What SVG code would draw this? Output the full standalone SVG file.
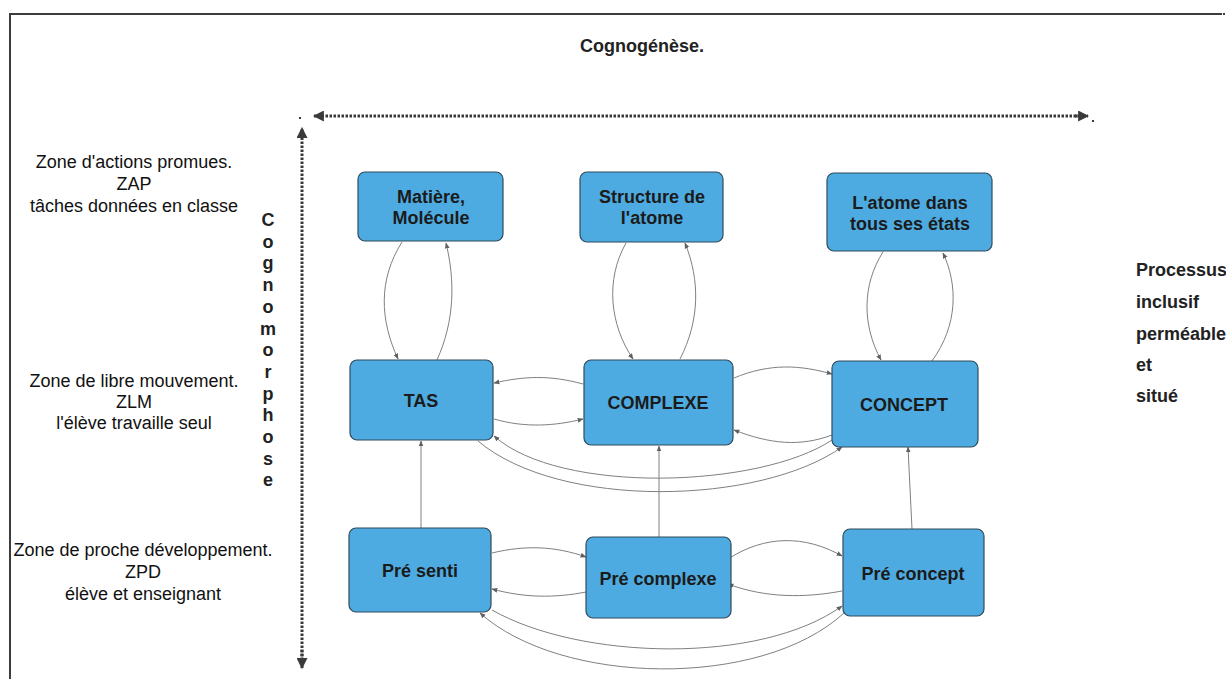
<svg xmlns="http://www.w3.org/2000/svg" width="1226" height="679" viewBox="0 0 1226 679">
<style>
.node rect{fill:#4eabe1;stroke:#2f4b5c;stroke-width:1.2}
.node text{font-family:"Liberation Sans",Arial,sans-serif;font-weight:bold;font-size:18px;fill:#1b1b1b;text-anchor:middle}
.lbl{font-family:"Liberation Sans",Arial,sans-serif;font-size:18px;fill:#111;text-anchor:middle}
.bold{font-family:"Liberation Sans",Arial,sans-serif;font-weight:bold;font-size:18px;fill:#222}
.conn path{fill:none;stroke:#808080;stroke-width:1}
.dash{fill:none;stroke:#3a3a3a;stroke-width:3;stroke-dasharray:2.5 1.5}
</style>
<defs>
<marker id="a" viewBox="0 0 10 10" refX="9" refY="5" markerWidth="6" markerHeight="6" orient="auto" markerUnits="userSpaceOnUse">
<path d="M0,1 L10,5 L0,9 z" fill="#606060"/>
</marker>
<marker id="d" viewBox="0 0 10 10" refX="9" refY="5" markerWidth="11" markerHeight="11" orient="auto" markerUnits="userSpaceOnUse">
<path d="M0,0 L10,5 L0,10 z" fill="#3a3a3a"/>
</marker>
</defs>
<rect width="1226" height="679" fill="#fff"/>
<g id="frame">
<path d="M10,679 L10,14 L1222,14" fill="none" stroke="#3c3c3c" stroke-width="2"/>
<rect x="1223" y="13" width="2" height="2" fill="#3c3c3c"/>
</g>
<g id="axes">
<line class="dash" x1="1080" y1="116" x2="314" y2="116" marker-end="url(#d)"/>
<line class="dash" x1="1075" y1="116" x2="1088" y2="116" marker-end="url(#d)"/>
<line class="dash" x1="302" y1="660" x2="302" y2="128" marker-end="url(#d)"/>
<line class="dash" x1="302" y1="650" x2="302" y2="668" marker-end="url(#d)"/>
<rect x="299" y="117" width="2" height="2" fill="#3a3a3a"/>
<rect x="1092" y="120" width="2" height="2" fill="#3a3a3a"/>
</g>
<text class="bold" x="642" y="52" text-anchor="middle">Cognogénèse.</text>
<g id="left-labels">
<text class="lbl" x="134" y="168">Zone d'actions promues.</text>
<text class="lbl" x="134" y="190">ZAP</text>
<text class="lbl" x="134" y="212">tâches données en classe</text>
<text class="lbl" x="134" y="387">Zone de libre mouvement.</text>
<text class="lbl" x="134" y="408">ZLM</text>
<text class="lbl" x="134" y="429">l'élève travaille seul</text>
<text class="lbl" x="143" y="556">Zone de proche développement.</text>
<text class="lbl" x="143" y="578">ZPD</text>
<text class="lbl" x="143" y="600">élève et enseignant</text>
</g>
<g id="cognomorphose" class="bold" text-anchor="middle">
<text x="268" y="226">C</text>
<text x="268" y="247.7">o</text>
<text x="268" y="269.4">g</text>
<text x="268" y="291.1">n</text>
<text x="268" y="312.8">o</text>
<text x="268" y="334.5">m</text>
<text x="268" y="356.2">o</text>
<text x="268" y="377.9">r</text>
<text x="268" y="399.6">p</text>
<text x="268" y="421.3">h</text>
<text x="268" y="443">o</text>
<text x="268" y="464.7">s</text>
<text x="268" y="486.4">e</text>
</g>
<g id="right-labels" class="bold">
<text x="1136" y="276">Processus</text>
<text x="1136" y="308">inclusif</text>
<text x="1136" y="340">perméable</text>
<text x="1136" y="371">et</text>
<text x="1136" y="402">situé</text>
</g>
<g class="conn" id="connectors">
<path d="M402,242 C378,280 380,320 398,359" marker-end="url(#a)"/>
<path d="M437,360 C455,320 455,280 446,243" marker-end="url(#a)"/>
<path d="M626,243 C605,280 610,325 633,359" marker-end="url(#a)"/>
<path d="M680,359 C700,320 700,280 685,243" marker-end="url(#a)"/>
<path d="M883,252 C862,285 862,325 881,360" marker-end="url(#a)"/>
<path d="M932,361 C958,325 958,285 943,253" marker-end="url(#a)"/>
<path d="M583,384 C550,375 525,376 494,383" marker-end="url(#a)"/>
<path d="M494,419 C525,428 555,426 583,419" marker-end="url(#a)"/>
<path d="M734,378 C770,363 800,365 832,374" marker-end="url(#a)"/>
<path d="M832,435 C800,447 770,444 734,430" marker-end="url(#a)"/>
<path d="M832,440 C760,488 560,495 494,436" marker-end="url(#a)"/>
<path d="M478,441 C560,510 760,505 842,447" marker-end="url(#a)"/>
<path d="M421,528 L421,441" marker-end="url(#a)"/>
<path d="M659,537 L659,446" marker-end="url(#a)"/>
<path d="M912,529 L908,447" marker-end="url(#a)"/>
<path d="M492,553 C525,545 555,546 586,557" marker-end="url(#a)"/>
<path d="M586,592 C555,598 525,598 492,589" marker-end="url(#a)"/>
<path d="M728,559 C765,535 805,535 842,556" marker-end="url(#a)"/>
<path d="M842,591 C805,598 765,598 728,584" marker-end="url(#a)"/>
<path d="M492,610 C580,660 760,665 842,606" marker-end="url(#a)"/>
<path d="M844,613 C760,690 560,685 480,613" marker-end="url(#a)"/>
</g>
<g id="n-matiere" class="node"><rect x="358" y="172" width="145" height="69" rx="7"/><text x="431" y="203">Matière,</text><text x="431" y="224">Molécule</text></g>
<g id="n-structure" class="node"><rect x="580" y="172" width="143" height="70" rx="7"/><text x="652" y="203">Structure de</text><text x="652" y="224">l'atome</text></g>
<g id="n-atome" class="node"><rect x="827" y="173" width="165" height="78" rx="7"/><text x="910" y="209">L'atome dans</text><text x="910" y="230">tous ses états</text></g>
<g id="n-tas" class="node"><rect x="350" y="360" width="143" height="80" rx="7"/><text x="421" y="407">TAS</text></g>
<g id="n-complexe" class="node"><rect x="584" y="360" width="149" height="85" rx="7"/><text x="658" y="409">COMPLEXE</text></g>
<g id="n-concept" class="node"><rect x="832" y="361" width="146" height="86" rx="7"/><text x="904" y="411">CONCEPT</text></g>
<g id="n-presenti" class="node"><rect x="349" y="528" width="142" height="84" rx="7"/><text x="420" y="577">Pré senti</text></g>
<g id="n-precomplexe" class="node"><rect x="586" y="537" width="145" height="81" rx="7"/><text x="658" y="585">Pré complexe</text></g>
<g id="n-preconcept" class="node"><rect x="843" y="529" width="141" height="87" rx="7"/><text x="913" y="580">Pré concept</text></g>
</svg>
